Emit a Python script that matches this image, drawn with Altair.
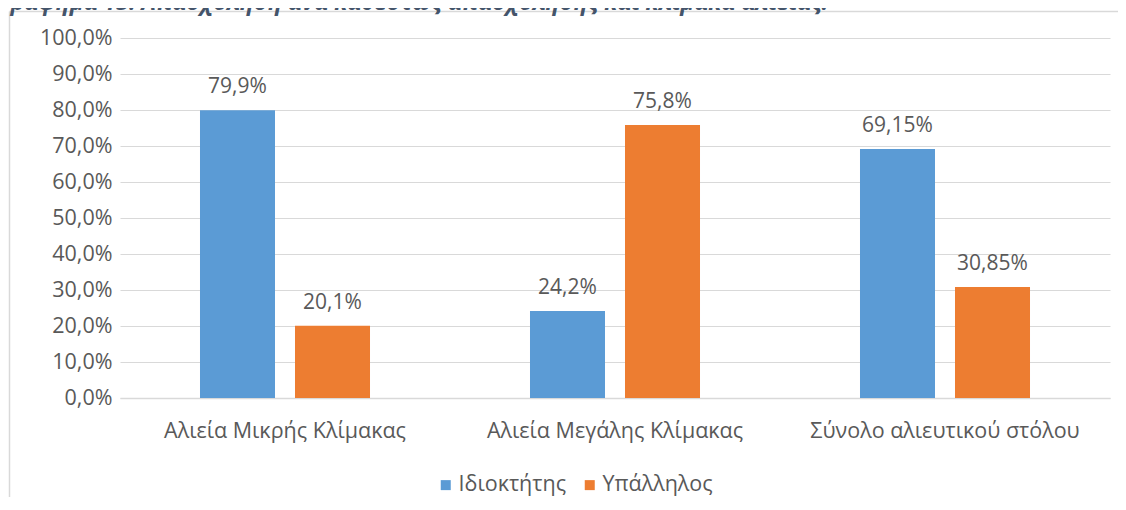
import altair as alt
import pandas as pd

categories = ["Αλιεία Μικρής Κλίμακας", "Αλιεία Μεγάλης Κλίμακας", "Σύνολο αλιευτικού στόλου"]
series_names = ["Ιδιοκτήτης", "Υπάλληλος"]
owner_values = [0.799, 0.242, 0.6915]
employee_values = [0.201, 0.758, 0.3085]
owner_labels = ["79,9%", "24,2%", "69,15%"]
employee_labels = ["20,1%", "75,8%", "30,85%"]
colors = ["#5B9BD5", "#ED7D31"]
y_ticks = [0.0, 0.1, 0.2, 0.3, 0.4, 0.5, 0.6, 0.7, 0.8, 0.9, 1.0]
title_text = "Γράφημα 13: Απασχόληση ανά καθεστώς απασχόλησης και κλίμακα αλιείας."

FONT = "Open Sans"
TXT = "#595959"
GRID = "#D9D9D9"
FS = 21.5

rows = []
for i, c in enumerate(categories):
    rows.append({"cat": c, "series": series_names[0], "value": owner_values[i], "label": owner_labels[i]})
    rows.append({"cat": c, "series": series_names[1], "value": employee_values[i], "label": employee_labels[i]})
df = pd.DataFrame(rows)

y_enc = alt.Y(
    "value:Q",
    scale=alt.Scale(domain=[0, 1], nice=False),
    axis=alt.Axis(
        values=y_ticks, title=None, domain=False, ticks=False, labelOverlap=False,
        labelExpr="replace(format(datum.value, '.1%'), '.', ',')",
        labelFontSize=FS, labelColor=TXT, labelFont=FONT, labelPadding=8,
        gridColor=GRID, gridWidth=1.2,
    ),
)

base = alt.Chart(df).encode(
    x=alt.X(
        "cat:N",
        sort=categories,
        scale=alt.Scale(paddingInner=0, paddingOuter=0),
        axis=alt.Axis(
            title=None, labelAngle=0, labelFontSize=FS, labelColor=TXT, labelFont=FONT,
            labelPadding=22, labelBaseline="top", labelLimit=500, ticks=False,
            domainColor=GRID, domainWidth=1.3,
        ),
    ),
    xOffset=alt.XOffset("series:N", sort=series_names,
                        scale=alt.Scale(paddingInner=0.2105, paddingOuter=0.842)),
    y=y_enc,
)

bars = base.mark_bar().encode(
    color=alt.Color(
        "series:N", sort=series_names,
        scale=alt.Scale(domain=series_names, range=colors),
        legend=alt.Legend(
            orient="none", legendX=315, legendY=436, direction="horizontal", title=None,
            symbolType="square", symbolSize=100, symbolStrokeWidth=0,
            labelFontSize=FS, labelColor=TXT, labelFont=FONT, labelOffset=2, columnPadding=12,
        ),
    ),
)

texts = base.mark_text(dy=-17, baseline="alphabetic", fontSize=21, color=TXT, font=FONT).encode(
    text="label:N"
)

title_df = pd.DataFrame({"t": [title_text]})
title = alt.Chart(title_df).mark_text(
    align="left", baseline="alphabetic", fontStyle="italic", fontWeight="bold",
    fontSize=23, color="#44546A", font=FONT,
).encode(x=alt.value(-121), y=alt.value(-28), text="t:N")

dummy = pd.DataFrame({"a": [0]})
border_top = alt.Chart(dummy).mark_rule(color=GRID, strokeWidth=1.5).encode(
    x=alt.value(-110.5), x2=alt.value(1020), y=alt.value(-26.5)
)
border_left = alt.Chart(dummy).mark_rule(color=GRID, strokeWidth=1.5).encode(
    x=alt.value(-110.5), y=alt.value(-26.5), y2=alt.value(480)
)

chart = alt.layer(border_top, border_left, title, bars, texts).properties(
    width=990, height=360,
    autosize=alt.AutoSizeParams(type="none"),
    padding={"left": 112, "top": 30, "right": 8, "bottom": 99},
    background="white",
).configure_view(strokeWidth=0)

chart.save("out.html", embed_options={"renderer": "svg", "actions": False})
